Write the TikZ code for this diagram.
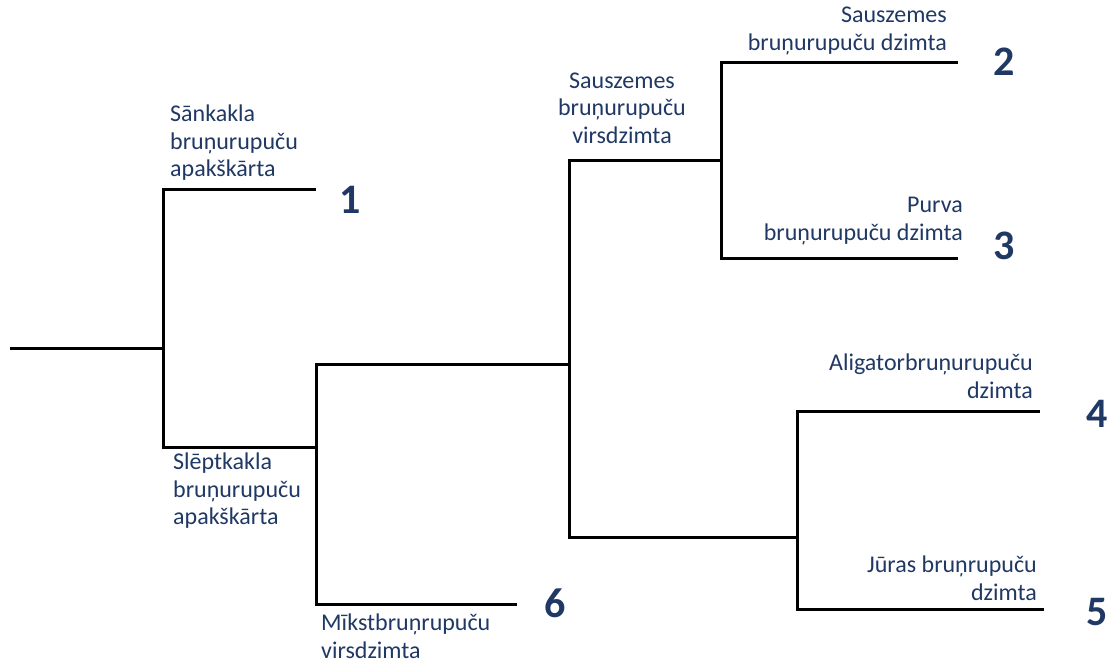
\documentclass[tikz,border=0pt]{standalone}
\usepackage{fontspec}
\setmainfont{Carlito}
\definecolor{navy}{HTML}{1F3864}
\begin{document}
\begin{tikzpicture}[x=1pt,y=-1pt,
  br/.style={line width=3pt, black},
  lab/.style={text=navy, font=\fontsize{24}{27.5}\selectfont, inner sep=0pt},
  num/.style={text=navy, font=\fontsize{42}{42}\selectfont\bfseries, inner sep=0pt}]
\useasboundingbox (0,0) rectangle (1113,665);
% tree coordinates
\coordinate (root) at (10,348);
\coordinate (n0) at (163,348);
\coordinate (n1) at (316,447);
\coordinate (n2) at (569,364);
\coordinate (n3) at (721,160);
\coordinate (n4) at (797,537);
\coordinate (L1) at (316,189);
\coordinate (L2) at (958,62);
\coordinate (L3) at (958,258);
\coordinate (L4) at (1040,411);
\coordinate (L5) at (1044,609);
\coordinate (L6) at (517,604);
% branches
\draw[br] (root) -- (n0);
\draw[br] (L1) -| (n0) |- (n1);
\draw[br] (n2) -| (n1) |- (L6);
\draw[br] (n3) -| (n2) |- (n4);
\draw[br] (L2) -| (n3) |- (L3);
\draw[br] (L4) -| (n4) |- (L5);
% labels
\node[lab, anchor=west, align=left] (t1) at (170,143) {Sānkakla\\bruņurupuču\\apakškārta};
\node[lab, anchor=east, align=right] (t2) at (947,31) {Sauszemes\\bruņurupuču dzimta};
\node[lab, align=center] (t23) at (622,108) {Sauszemes\\bruņurupuču\\virsdzimta};
\node[lab, anchor=east, align=right] (t3) at (963,221) {Purva\\bruņurupuču dzimta};
\node[lab, anchor=east, align=right] (t4) at (1033,376) {Aligatorbruņurupuču\\dzimta};
\node[lab, anchor=east, align=right] (t5) at (1037,578) {Jūras bruņrupuču\\dzimta};
\node[lab, anchor=west, align=left] (t0) at (173,491) {Slēptkakla\\bruņurupuču\\apakškārta};
\node[lab, anchor=west, align=left] (t6) at (321,636) {Mīkstbruņrupuču\\virsdzimta};
% numbers
\node[num] (m1) at (350,200) {1};
\node[num] (m2) at (1004,62) {2};
\node[num] (m3) at (1004,246) {3};
\node[num] (m4) at (1097,414) {4};
\node[num] (m5) at (1097,612) {5};
\node[num] (m6) at (555,603) {6};
\end{tikzpicture}
\end{document}
